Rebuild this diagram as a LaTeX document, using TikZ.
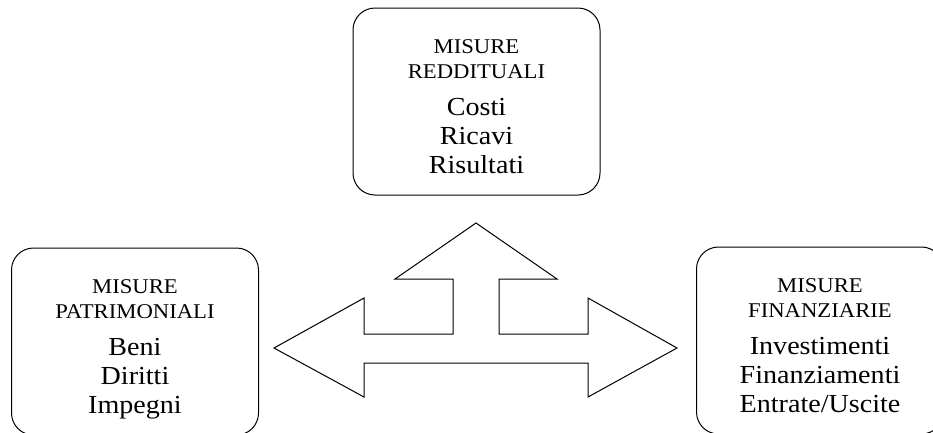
\documentclass[tikz,border=0pt]{standalone}
\usepackage{fontspec}
\setmainfont{Liberation Serif}[FakeStretch=1.08]
\usetikzlibrary{positioning}

\begin{document}
\begin{tikzpicture}[x=1pt, y=-1pt,
    misbox/.style={draw=black, line width=1pt, rounded corners=22pt,
                   minimum width=247pt, minimum height=187pt, inner sep=0pt},
    mishead/.style={font=\fontsize{21}{25}\selectfont, align=center, inner sep=0pt},
    misitems/.style={font=\fontsize{26}{29}\selectfont, align=center, inner sep=0pt}]
  \path[use as bounding box, clip] (0,0) rectangle (933,432);

  % misure reddituali
  \node[misbox] (redd) at (476.5,101.5) {};
  \node[mishead, below=32pt of redd.north] (reddt) {MISURE\\REDDITUALI};
  \node[misitems, below=19pt of reddt] (reddi) {Costi\\Ricavi\\Risultati};

  % misure patrimoniali
  \node[misbox] (patr) at (135,341.5) {};
  \node[mishead, below=32pt of patr.north] (patrt) {MISURE\\PATRIMONIALI};
  \node[misitems, below=19pt of patrt] (patri) {Beni\\Diritti\\Impegni};

  % misure finanziarie
  \node[misbox] (fina) at (820,340.5) {};
  \node[mishead, below=32pt of fina.north] (finat) {MISURE\\FINANZIARIE};
  \node[misitems, below=19pt of finat] (finai) {Investimenti\\Finanziamenti\\Entrate/Uscite};

  % freccia a tre punte
  \draw[line width=1pt, line join=miter]
    (476,223) -- (557,279) -- (499,279) -- (499,334) -- (588,334) -- (588,298)
    -- (677,348) -- (588,397) -- (588,363) -- (364,363) -- (364,397)
    -- (274,348) -- (364,298) -- (364,334) -- (453,334) -- (453,279)
    -- (395,279) -- cycle;
\end{tikzpicture}
\end{document}
